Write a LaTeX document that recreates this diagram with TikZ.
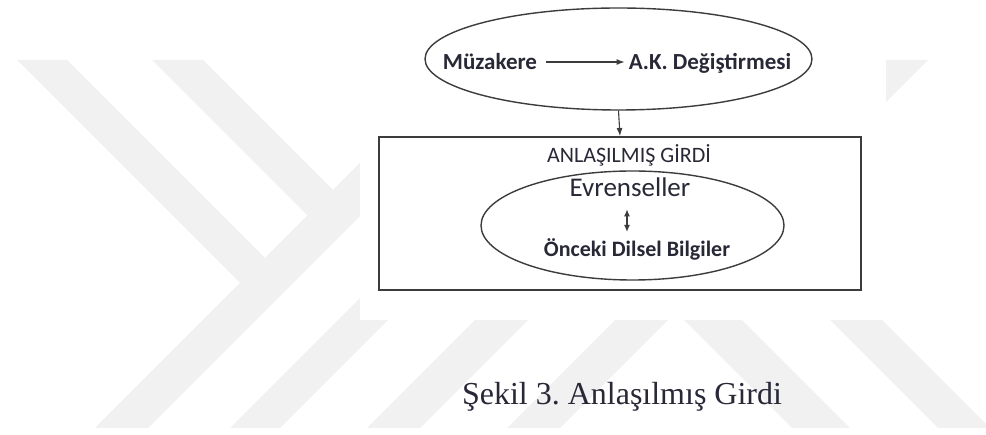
\documentclass[tikz,border=0pt]{standalone}
\usepackage{fontspec}
\setmainfont{Liberation Serif}
\newfontfamily\calibri{Carlito}
\usetikzlibrary{shapes.geometric,arrows.meta}
\definecolor{wmgray}{RGB}{241,241,241}
\definecolor{inkgray}{RGB}{60,60,60}
\definecolor{txtcol}{RGB}{40,40,55}
\tikzset{
  oval/.style={ellipse, draw=inkgray, line width=1.4pt, inner sep=0pt},
  lbl/.style={anchor=base, text=txtcol, inner sep=0pt},
  band/.style={fill=wmgray, draw=none},
  link/.style={line width=1.1pt, inkgray, -{Latex[length=8pt,width=6pt]}},
}
\newcommand{\fs}[1]{\fontsize{#1}{#1}\selectfont}
\frenchspacing

\begin{document}
\begin{tikzpicture}[x=1pt,y=-1pt]
	\useasboundingbox (0,0) rectangle (986,435);
	% watermark in the back
	\begin{scope}
	\clip (0,60) rectangle (986,428);
	\fill[band] (17,60) -- (67,60) -- (265,258) -- (240,283) -- cycle;
	\fill[band] (152,60) -- (203,60) -- (333,190) -- (307.5,215.5) -- cycle;
	\fill[band] (95,428) -- (148,428) -- (516,60) -- (463,60) -- cycle;
	\fill[band] (230,428) -- (280,428) -- (648,60) -- (598,60) -- cycle;
	\fill[band] (367,428) -- (420,428) -- (788,60) -- (735,60) -- cycle;
	\fill[band] (507,428) -- (560,428) -- (928,60) -- (875,60) -- cycle;
	\fill[band] (614,250) -- (672,250) -- (850,428) -- (792,428) -- cycle;
	\fill[band] (760,250) -- (812,250) -- (990,428) -- (938,428) -- cycle;
	\end{scope}
	\fill[white] (360,0) rectangle (886,320);
	% figure
	\node[oval, minimum width=387pt, minimum height=102pt] (top) at (618.5,59) {};
	\node[lbl, font=\calibri\bfseries\fs{23}] (muz) at (490,70) {Müzakere};
	\node[lbl, font=\calibri\bfseries\fs{23}] (ak) at (710,70) {A.K. Değiştirmesi};
	\draw[link, shorten <=9pt, shorten >=4pt] (muz.east) -- (ak.west |- muz.east);
	\node[draw=inkgray, line width=1.8pt, minimum width=482pt, minimum height=153pt, inner sep=0pt] (frame) at (620,213.5) {};
	\draw[link] (top.south) -- (frame.north);
	\node[lbl, font=\calibri\fs{22}] (girdi) at (629,163) {ANLAŞILMIŞ GİRDİ};
	\node[oval, minimum width=303pt, minimum height=109pt] (inner) at (632.5,225.5) {};
	\node[lbl, font=\calibri\fs{27}] (evr) at (630,197) {Evrenseller};
	\node[lbl, font=\calibri\bfseries\fs{22}] (onc) at (637,257) {Önceki Dilsel Bilgiler};
	\draw[link, {Latex[length=7pt,width=6pt]}-{Latex[length=7pt,width=6pt]}, shorten <=12pt, shorten >=7pt] ([xshift=-3pt]evr.south) -- ([xshift=-3pt]evr.south |- onc.north);
	\node[lbl, font=\fs{32}] (caption) at (622,405) {Şekil 3. Anlaşılmış Girdi};
\end{tikzpicture}
\end{document}
